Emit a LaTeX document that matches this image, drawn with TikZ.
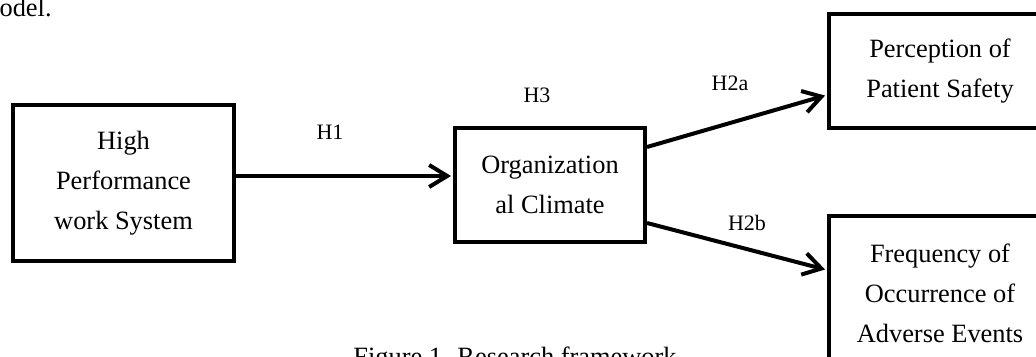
\documentclass[tikz,border=0pt]{standalone}
\usepackage{fontspec}
\setmainfont{Liberation Serif}
\usetikzlibrary{arrows.meta}
\pgfdeclarelayer{edgelayer}
\pgfdeclarelayer{nodelayer}
\pgfsetlayers{edgelayer,nodelayer,main}
\tikzstyle{construct}=[rectangle, draw=black, line width=2pt, align=center, inner sep=0pt, font=\fontsize{13.2}{20}\selectfont]
\tikzstyle{hyp}=[inner sep=0pt, font=\fontsize{11}{13}\selectfont]
\tikzstyle{plain}=[inner sep=0pt, font=\fontsize{13.2}{20}\selectfont]
\tikzstyle{link}=[-{Straight Barb[length=9pt,width=11pt]}, draw=black, line width=2pt, shorten >=1pt]

\begin{document}
\begin{tikzpicture}[x=0.5pt, y=-0.5pt]
            \useasboundingbox (0, 0) rectangle (1036, 357);
            \begin{pgfonlayer}{nodelayer}
                \node [style=plain, anchor=base east] (prev) at (52, 17) {model.};

                \node [style=construct, minimum width=110.5pt, minimum height=78pt] (hpws) at (123.5, 183) {High\\Performance\\work System};
                \node [style=construct, minimum width=95pt, minimum height=57pt] (climate) at (550, 185) {Organization\\al Climate};
                \node [style=construct, minimum width=111pt, minimum height=57pt] (safety) at (940, 71) {Perception of\\Patient Safety};
                \node [style=construct, minimum width=111pt, minimum height=77pt] (adverse) at (940, 293) {Frequency of\\Occurrence of\\Adverse Events};

                \node [style=hyp] (h1) at (330, 132) {H1};
                \node [style=hyp] (h3) at (537, 95) {H3};
                \node [style=hyp] (h2a) at (730, 83) {H2a};
                \node [style=hyp] (h2b) at (747, 223) {H2b};

                \node [style=plain, anchor=base] (caption) at (515, 365) {Figure 1. Research framework};
            \end{pgfonlayer}
            \begin{pgfonlayer}{edgelayer}
                \draw [style=link] ([yshift=3.5pt]hpws.east) to ([yshift=4.5pt]climate.west);
                \draw [style=link] ([yshift=19pt]climate.east) to ([yshift=-12pt]safety.west);
                \draw [style=link] ([yshift=-19pt]climate.east) to ([yshift=11.5pt]adverse.west);
            \end{pgfonlayer}
        \end{tikzpicture}
\end{document}
